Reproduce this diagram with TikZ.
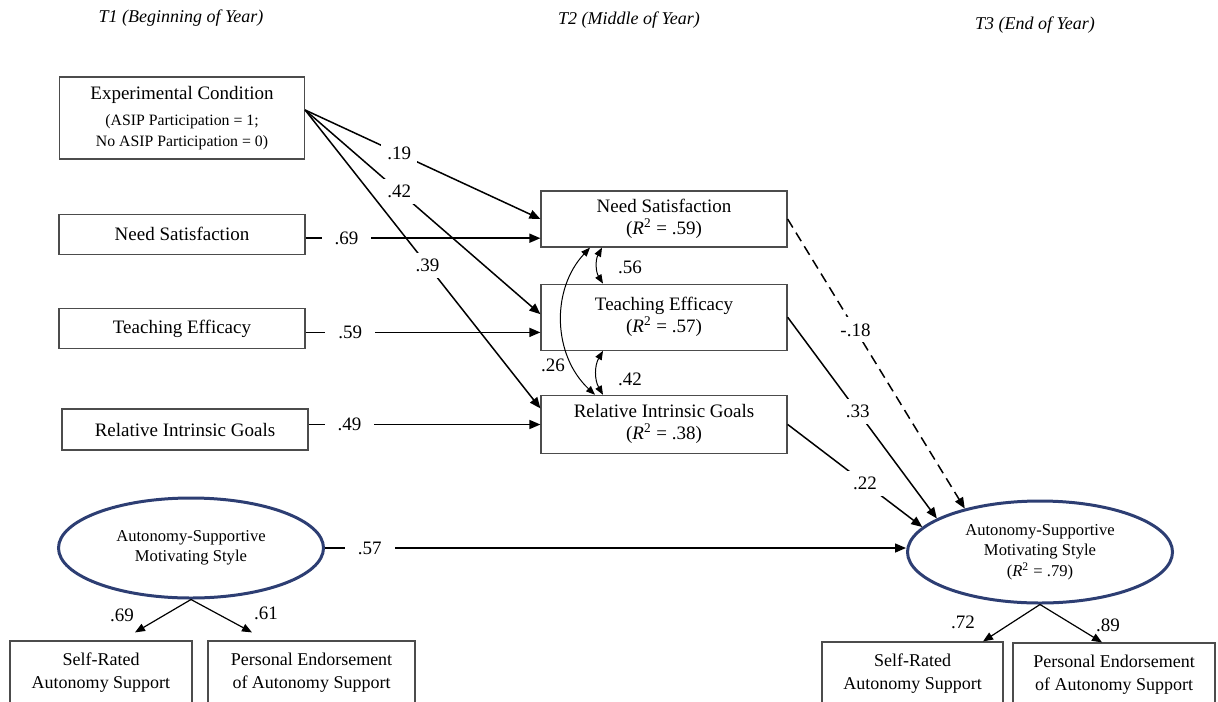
\documentclass[tikz,border=0pt]{standalone}
\usepackage{fontspec}
\setmainfont{Liberation Serif}
\usetikzlibrary{shapes.geometric, arrows.meta, positioning}
\definecolor{latentblue}{RGB}{45,62,115}

\begin{document}
\begin{tikzpicture}[
  x=0.5pt, y=-0.5pt,
  box/.style={rectangle, draw=black!70, line width=0.6pt, minimum width=123pt, inner sep=2pt, align=center, font=\fontsize{9.5}{11}\selectfont},
  latent/.style={ellipse, draw=latentblue, line width=1.5pt, minimum width=132.5pt, minimum height=50pt, inner sep=0pt, align=center, font=\fontsize{8.3}{10.2}\selectfont},
  indicator/.style={rectangle, draw=black!70, line width=0.6pt, minimum height=32pt, inner sep=2pt, align=center, font=\fontsize{9}{11.5}\selectfont},
  wave/.style={font=\fontsize{9}{11}\selectfont\itshape},
  line/.style={draw, -{Triangle[length=5.5pt, width=4.5pt]}, line width=0.75pt},
  loading/.style={draw, -{Triangle[length=5pt, width=4pt]}, line width=0.6pt},
  corr/.style={draw, {Triangle[length=4.5pt, width=3.5pt]}-{Triangle[length=4.5pt, width=3.5pt]}, line width=0.5pt},
  coef/.style={fill=white, inner sep=3pt, font=\fontsize{9.5}{11}\selectfont},
  flat/.style={coef, inner xsep=6.5pt},
  note/.style={inner sep=1pt, font=\fontsize{9.5}{11}\selectfont}
]
\newcommand{\condline}[1]{{\fontsize{7.9}{9.5}\selectfont #1}}
\useasboundingbox (0,0) rectangle (1218,701);

  % time points
  \node[wave] (t1) at (181,18) {T1 (Beginning of Year)};
  \node[wave] (t2) at (629,20) {T2 (Middle of Year)};
  \node[wave] (t3) at (1035,25) {T3 (End of Year)};

  % T1 measures
  \node[box, minimum width=122.5pt, minimum height=41pt] (exp) at (182,118) {Experimental Condition\\[2pt]\condline{(ASIP Participation = 1;}\\[-0.5pt]\condline{No ASIP Participation = 0)}};
  \node[box, minimum height=20pt, below=27pt of exp] (ns1) {Need Satisfaction};
  \node[box, minimum height=20pt, below=26.5pt of ns1] (te1) {Teaching Efficacy};
  \node[box, minimum height=20.5pt] (rig1) at (185,429.5) {Relative Intrinsic Goals};

  % T2 measures
  \node[box, minimum height=28pt] (ns2) at (664,219) {Need Satisfaction\\(\textit{R}\textsuperscript{2} = .59)};
  \node[box, minimum height=33pt, below=18pt of ns2] (te2) {Teaching Efficacy\\(\textit{R}\textsuperscript{2} = .57)};
  \node[box, minimum height=29pt, below=22pt of te2] (rig2) {Relative Intrinsic Goals\\(\textit{R}\textsuperscript{2} = .38)};

  % latent style
  \node[latent] (asL) at (191,548) {Autonomy-Supportive\\Motivating Style};
  \node[latent, minimum height=51pt] (asR) at (1040,552) {Autonomy-Supportive\\Motivating Style\\(\textit{R}\textsuperscript{2} = .79)};

  \node[indicator, minimum width=91pt] (srL) at (101,673) {Self-Rated\\Autonomy Support};
  \node[indicator, minimum width=103.5pt] (peL) at (311.5,673) {Personal Endorsement\\of Autonomy Support};
  \node[indicator, minimum width=90.5pt] (srR) at (912.5,674) {Self-Rated\\Autonomy Support};
  \node[indicator, minimum width=101pt] (peR) at (1114,675) {Personal Endorsement\\of Autonomy Support};

  % condition effects
  \draw[line] ([yshift=4pt]exp.east) -- node[coef, pos=0.40] {.19} (ns2.west);
  \draw[line] ([yshift=4pt]exp.east) -- node[coef, pos=0.40] {.42} ([yshift=1.5pt]te2.west);
  \draw[line] ([yshift=4pt]exp.east) -- node[coef, pos=0.52] {.39} ([yshift=8pt]rig2.west);

  % stability paths
  \draw[line] ([yshift=-2pt]ns1.east) -- node[flat, pos=0.174] {.69} ([yshift=-2pt]ns1.east -| ns2.west);
  \draw[line] ([yshift=-2pt]te1.east) -- node[flat, pos=0.19] {.59} ([yshift=-2pt]te1.east -| te2.west);
  \draw[line] ([yshift=2.5pt]rig1.east) -- node[flat, pos=0.176] {.49} ([yshift=2.5pt]rig1.east -| rig2.west);
  \draw[line] (asL.east) -- node[flat, pos=0.077] {.57} (asL.east -| asR.west);

  % T2 to T3
  \draw[line, dash pattern=on 5pt off 3pt] (ns2.east) -- node[coef, pos=0.383] {-.18} (asR.150);
  \draw[line] (te2.east) -- node[coef, pos=0.47] {.33} (asR.162);
  \draw[line] (rig2.east) -- node[coef, pos=0.574] {.22} (asR.168);

  % residual correlations
  \draw[corr] ([xshift=-31pt]ns2.south) to[bend right=30] ([xshift=-30.5pt]te2.north);
  \draw[corr] ([xshift=-30.5pt]te2.south) to[bend right=30] ([xshift=-30.5pt]rig2.north);
  \draw[corr] ([xshift=-37pt]ns2.south) to[bend right=45] ([xshift=-34.5pt]rig2.north);
  \node[note] (r56) at (630,267) {.56};
  \node[note] (r42) at (630,379) {.42};
  \node[note] (r26) at (553,365) {.26};

  % loadings
  \draw[loading] (asL.south) -- ([shift={(34,-8)}]srL.north);
  \draw[loading] (asL.south) -- ([shift={(-59.5,-8)}]peL.north);
  \draw[loading] (asR.south) -- ([shift={(70.5,0)}]srR.north);
  \draw[loading] (asR.south) -- ([shift={(-12,0)}]peR.north);
  \node[note] (l69) at (122,615) {.69};
  \node[note] (l61) at (266,613) {.61};
  \node[note] (l72) at (963,622) {.72};
  \node[note] (l89) at (1108,625) {.89};
\end{tikzpicture}
\end{document}
